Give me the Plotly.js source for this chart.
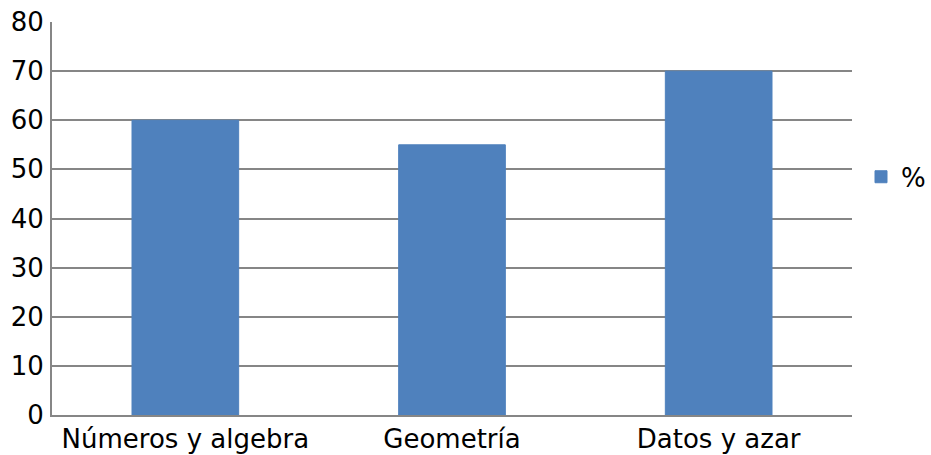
<!DOCTYPE html>
<html><head><meta charset="utf-8">
<script src="https://cdn.plot.ly/plotly-3.0.1.min.js"></script>
<style>html,body{margin:0;padding:0;background:#fff}#c{width:931px;height:455px}</style>
</head><body><div id="c"></div>
<script>
const categories = ["Números y algebra", "Geometría", "Datos y azar"];
const values = [60, 55, 70];
const seriesName = "%";
const yTicks = [0, 10, 20, 30, 40, 50, 60, 70, 80];

const trace = {
  type: "bar", x: categories, y: values, name: seriesName,
  marker: {color: "#4F81BD", line: {color: "#4F81BD", width: 1}}, showlegend: true, hoverinfo: "none"
};
const layout = {
  width: 931, height: 455,
  margin: {l: 52, r: 0, t: 22, b: 40},
  paper_bgcolor: "#fff", plot_bgcolor: "#fff",
  font: {family: "DejaVu Sans", size: 26, color: "#000"},
  bargap: 0.6,
  showlegend: true,
  legend: {x: 1, y: 0.606, xanchor: "right", yanchor: "middle", font: {size: 26}, borderwidth: 0},
  xaxis: {domain: [0, 800/879], showline: true, linecolor: "#868686", linewidth: 2, ticks: "", showgrid: false, tickfont: {size: 26}},
  yaxis: {range: [0, 80], tickvals: yTicks, showline: true, linecolor: "#868686", linewidth: 2,
          gridcolor: "#868686", gridwidth: 2, ticks: "outside", ticklen: 1, tickcolor: "rgba(0,0,0,0)", tickfont: {size: 26}, zeroline: false}
};
Plotly.newPlot("c", [trace], layout, {displayModeBar: false, staticPlot: true});
</script></body></html>
